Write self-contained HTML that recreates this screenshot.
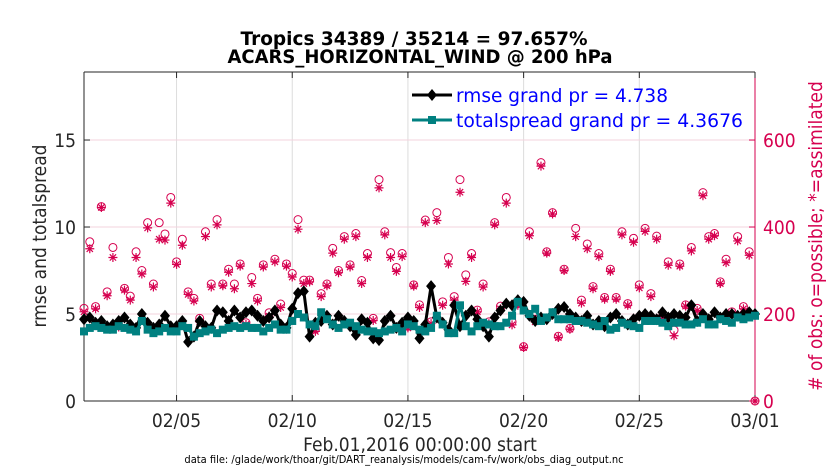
<!DOCTYPE html>
<html><head><meta charset="utf-8"><style>
html,body{margin:0;padding:0;background:#fff;}
svg{display:block;font-family:"DejaVu Sans Condensed","DejaVu Sans","Liberation Sans",sans-serif;}
</style></head><body>
<svg id="chart" width="840" height="473" viewBox="0 0 840 473"></svg>
<script>
const rmseVals=[4.7,4.8,4.5,4.6, 4.3,4.4,4.6,4.8, 4.4,4.2,5.0,4.5, 4.2,4.4,4.9,4.3, 4.3,4.6,3.4,3.7, 4.6,4.3,4.2,5.2, 5.1,4.6,5.2,4.8, 5.1,5.2,4.9,4.6, 4.8,5.2,4.4,4.2, 5.3,6.2,6.3,3.7, 4.5,4.6,4.9,4.4, 4.9,4.6,4.3,3.8, 4.7,4.5,3.6,3.5, 4.6,4.9,4.2,4.5, 4.8,4.6,3.6,4.4, 6.6,4.8,4.5,4.1, 5.5,4.3,4.9,5.2, 4.7,4.3,3.7,4.8, 5.2,5.6,5.5,5.8, 5.7,4.9,4.6,4.8, 4.7,5.0,5.3,5.4, 5.0,4.8,4.6,4.9, 4.4,4.6,4.3,4.8, 5.0,4.6,4.4,4.7, 4.9,5.0,4.9,4.7, 5.1,4.8,5.0,4.9, 4.8,5.5,4.6,5.0, 4.7,5.1,4.8,5.0, 5.0,4.9,5.0,5.1, 5.0];
const spreadVals=[4.0,4.2,4.3,4.2, 4.1,4.1,4.3,4.2, 4.1,4.0,4.6,4.1, 3.9,4.0,4.2,4.0, 4.0,4.3,4.2,3.7, 3.9,4.0,4.1,3.9, 4.1,4.2,4.3,4.2, 4.3,4.2,4.2,4.0, 4.2,4.4,4.1,4.1, 4.6,5.0,4.8,4.4, 4.3,5.1,4.7,4.4, 4.2,4.4,4.5,4.3, 4.1,4.0,4.0,3.9, 4.0,4.1,4.2,4.0, 4.4,4.3,4.1,4.0, 4.2,4.9,4.4,3.9, 3.9,5.5,4.3,4.0, 4.3,4.5,4.4,4.3, 4.3,4.5,4.9,5.7, 5.2,5.0,5.3,4.6, 4.8,5.1,4.7,4.7, 4.7,4.6,4.6,4.5, 4.4,4.3,4.6,4.1, 4.2,4.5,4.4,4.3, 4.2,4.6,4.6,4.6, 4.5,4.3,4.5,4.5, 4.4,4.4,4.5,4.7, 4.4,4.4,4.7,4.6, 4.5,4.8,4.7,4.8, 4.9];
const obsPossible=[213,366,217,447,251,353,175,259,241,343,300,410,269,410,384,468,320,372,251,236,190,389,269,417,269,303,269,315,180,284,236,313,203,326,223,315,293,417,278,278,165,247,269,351,300,378,313,385,277,339,190,509,389,341,307,339,172,267,221,416,182,433,228,330,240,509,290,339,209,269,182,410,218,468,182,224,125,389,188,548,343,433,149,303,167,397,232,361,263,339,238,303,238,389,224,374,267,397,247,379,194,320,163,315,221,353,213,479,378,385,274,326,205,378,217,343,0];
const obsAssim=[205,350,212,445,242,330,170,255,232,330,292,398,262,372,370,455,314,358,245,230,182,378,262,405,265,296,258,310,176,270,230,308,195,320,215,310,285,395,270,274,160,240,265,340,295,372,308,378,270,330,185,490,382,330,298,332,168,264,215,410,178,415,220,315,232,480,275,330,205,262,178,405,212,455,175,220,123,380,182,540,340,430,146,300,165,378,225,350,258,332,234,298,234,382,220,365,260,390,240,372,190,312,150,310,218,345,208,472,372,380,270,318,200,368,212,335,0];
const xTickDays=[4,9,14,19,24,29];
const xTickLabels=["02/05","02/10","02/15","02/20","02/25","03/01"];
const yLeftTicks=[0,5,10,15];
const yRightTicks=[0,200,400,600];

const NS="http://www.w3.org/2000/svg";
const svg=document.getElementById('chart');
const L=84,R=755,T=72,B=401;
const dayMax=29, yMax=18.91, rMax=756.4;
const crimson="#d6004f";
const xs=d=>L+(R-L)*d/dayMax;
const yl=v=>B-(B-T)*v/yMax;
const yr=v=>B-(B-T)*v/rMax;
function mk(tag,attrs,parent){const e=document.createElementNS(NS,tag);for(const k in attrs)e.setAttribute(k,attrs[k]);(parent||svg).appendChild(e);return e;}

const grid=mk('g',{});


xTickDays.forEach(d=>{const l=mk('line',{x1:xs(d),x2:xs(d),y1:T,y2:B,stroke:'#dcdcdc','stroke-width':1},grid);

});
yRightTicks.concat([rMax]).forEach(v=>{if(v===0)return;const l=mk('line',{x1:L,x2:R,y1:yr(v),y2:yr(v),stroke:'#f3d3de','stroke-width':1},grid);

});

const ax=mk('g',{});


mk('line',{x1:L,x2:R,y1:B,y2:B,stroke:'#262626','stroke-width':1},ax);
mk('line',{x1:L,x2:R,y1:T,y2:T,stroke:'#262626','stroke-width':1},ax);
mk('line',{x1:L,x2:L,y1:T,y2:B,stroke:'#262626','stroke-width':1},ax);
mk('line',{x1:R,x2:R,y1:T,y2:B,stroke:crimson,'stroke-width':1},ax);

xTickDays.forEach((d,i)=>{
 mk('line',{x1:xs(d),x2:xs(d),y1:B,y2:B-6,stroke:'#262626'},ax);
 mk('line',{x1:xs(d),x2:xs(d),y1:T,y2:T+6,stroke:'#262626'},ax);
 const t=mk('text',{x:xs(d),y:427,'text-anchor':'middle','font-size':19,fill:'#262626'},ax);t.textContent=xTickLabels[i];
 
 
});
yLeftTicks.forEach(v=>{
 mk('line',{x1:L,x2:L+6,y1:yl(v),y2:yl(v),stroke:'#262626'},ax);
 const t=mk('text',{x:76,y:yl(v)+7,'text-anchor':'end','font-size':19,fill:'#262626'},ax);t.textContent=v;
 
 
});
yRightTicks.forEach(v=>{
 mk('line',{x1:R,x2:R-6,y1:yr(v),y2:yr(v),stroke:crimson},ax);
 const t=mk('text',{x:763,y:yr(v)+7,'text-anchor':'start','font-size':19,fill:crimson},ax);t.textContent=v;
 
 
});

const obsG=mk('g',{});


obsPossible.forEach((v,i)=>{
 const c=mk('circle',{cx:xs(i*0.25),cy:yr(v),r:4,fill:'none',stroke:crimson,'stroke-width':1},obsG);
 
 
});
obsAssim.forEach((v,i)=>{
 const x=xs(i*0.25),y=yr(v),s=4.5;
 const p=mk('path',{d:`M${x-s},${y}H${x+s}M${x},${y-s}V${y+s}M${x-s*0.7},${y-s*0.7}L${x+s*0.7},${y+s*0.7}M${x-s*0.7},${y+s*0.7}L${x+s*0.7},${y-s*0.7}`,stroke:crimson,'stroke-width':1.2},obsG);
 
 
});

function series(vals,color,shape,name){
 const g=mk('g',{});
 
 
 mk('polyline',{points:vals.map((v,i)=>xs(i*0.25)+','+yl(v)).join(' '),fill:'none',stroke:color,'stroke-width':3,'stroke-linejoin':'round'},g);
 vals.forEach((v,i)=>{const x=xs(i*0.25),y=yl(v);let m;
  if(shape==='d'){m=mk('path',{d:`M${x},${y-6}L${x+5},${y}L${x},${y+6}L${x-5},${y}Z`,fill:color},g);}
  else{m=mk('rect',{x:x-4,y:y-4,width:8,height:8,fill:color},g);}
  
  });
}
series(rmseVals,'#000','d','rmse-series');
series(spreadVals,'#008080','s','totalspread-series');

const lg=mk('g',{});


mk('line',{x1:412,x2:452,y1:95,y2:95,stroke:'#000','stroke-width':3},lg);
mk('path',{d:'M432,89L437,95L432,101L427,95Z',fill:'#000'},lg);
const lt1=mk('text',{x:456,y:102,'font-size':19,fill:'#0000ff','font-family':'DejaVu Sans, sans-serif',textLength:212,lengthAdjust:'spacingAndGlyphs'},lg);lt1.textContent='rmse grand pr = 4.738';


mk('line',{x1:412,x2:452,y1:120,y2:120,stroke:'#008080','stroke-width':3},lg);
mk('rect',{x:428,y:116,width:8,height:8,fill:'#008080'},lg);
const lt2=mk('text',{x:456,y:127,'font-size':19,fill:'#0000ff','font-family':'DejaVu Sans, sans-serif',textLength:287,lengthAdjust:'spacingAndGlyphs'},lg);lt2.textContent='totalspread grand pr = 4.3676';



function txt(s,attrs,name){const t=mk('text',attrs);t.textContent=s;
 
 return t;}
txt('Tropics 34389 / 35214 = 97.657%',{x:414,y:45,'text-anchor':'middle','font-size':19,'font-weight':'bold',fill:'#000','font-family':'DejaVu Sans, sans-serif',textLength:347,lengthAdjust:'spacingAndGlyphs'},'title-line-1');
txt('ACARS_HORIZONTAL_WIND @ 200 hPa',{x:420,y:63,'text-anchor':'middle','font-size':19,'font-weight':'bold',fill:'#000','font-family':'DejaVu Sans, sans-serif',textLength:385,lengthAdjust:'spacingAndGlyphs'},'title-line-2');
txt('Feb.01,2016 00:00:00 start',{x:420,y:451,'text-anchor':'middle','font-size':19,fill:'#262626'},'x-axis-title');
txt('data file: /glade/work/thoar/git/DART_reanalysis/models/cam-fv/work/obs_diag_output.nc',{x:404,y:463,'text-anchor':'middle','font-size':11,fill:'#000'},'data-file-note');
txt('rmse and totalspread',{x:0,y:0,'text-anchor':'middle','font-size':19,fill:'#262626',transform:'translate(46,236) rotate(-90)'},'y-left-axis-title');
txt('# of obs: o=possible; *=assimilated',{x:0,y:0,'text-anchor':'middle','font-size':19,fill:crimson,transform:'translate(822,236) rotate(-90)'},'y-right-axis-title');
</script>
</body></html>
